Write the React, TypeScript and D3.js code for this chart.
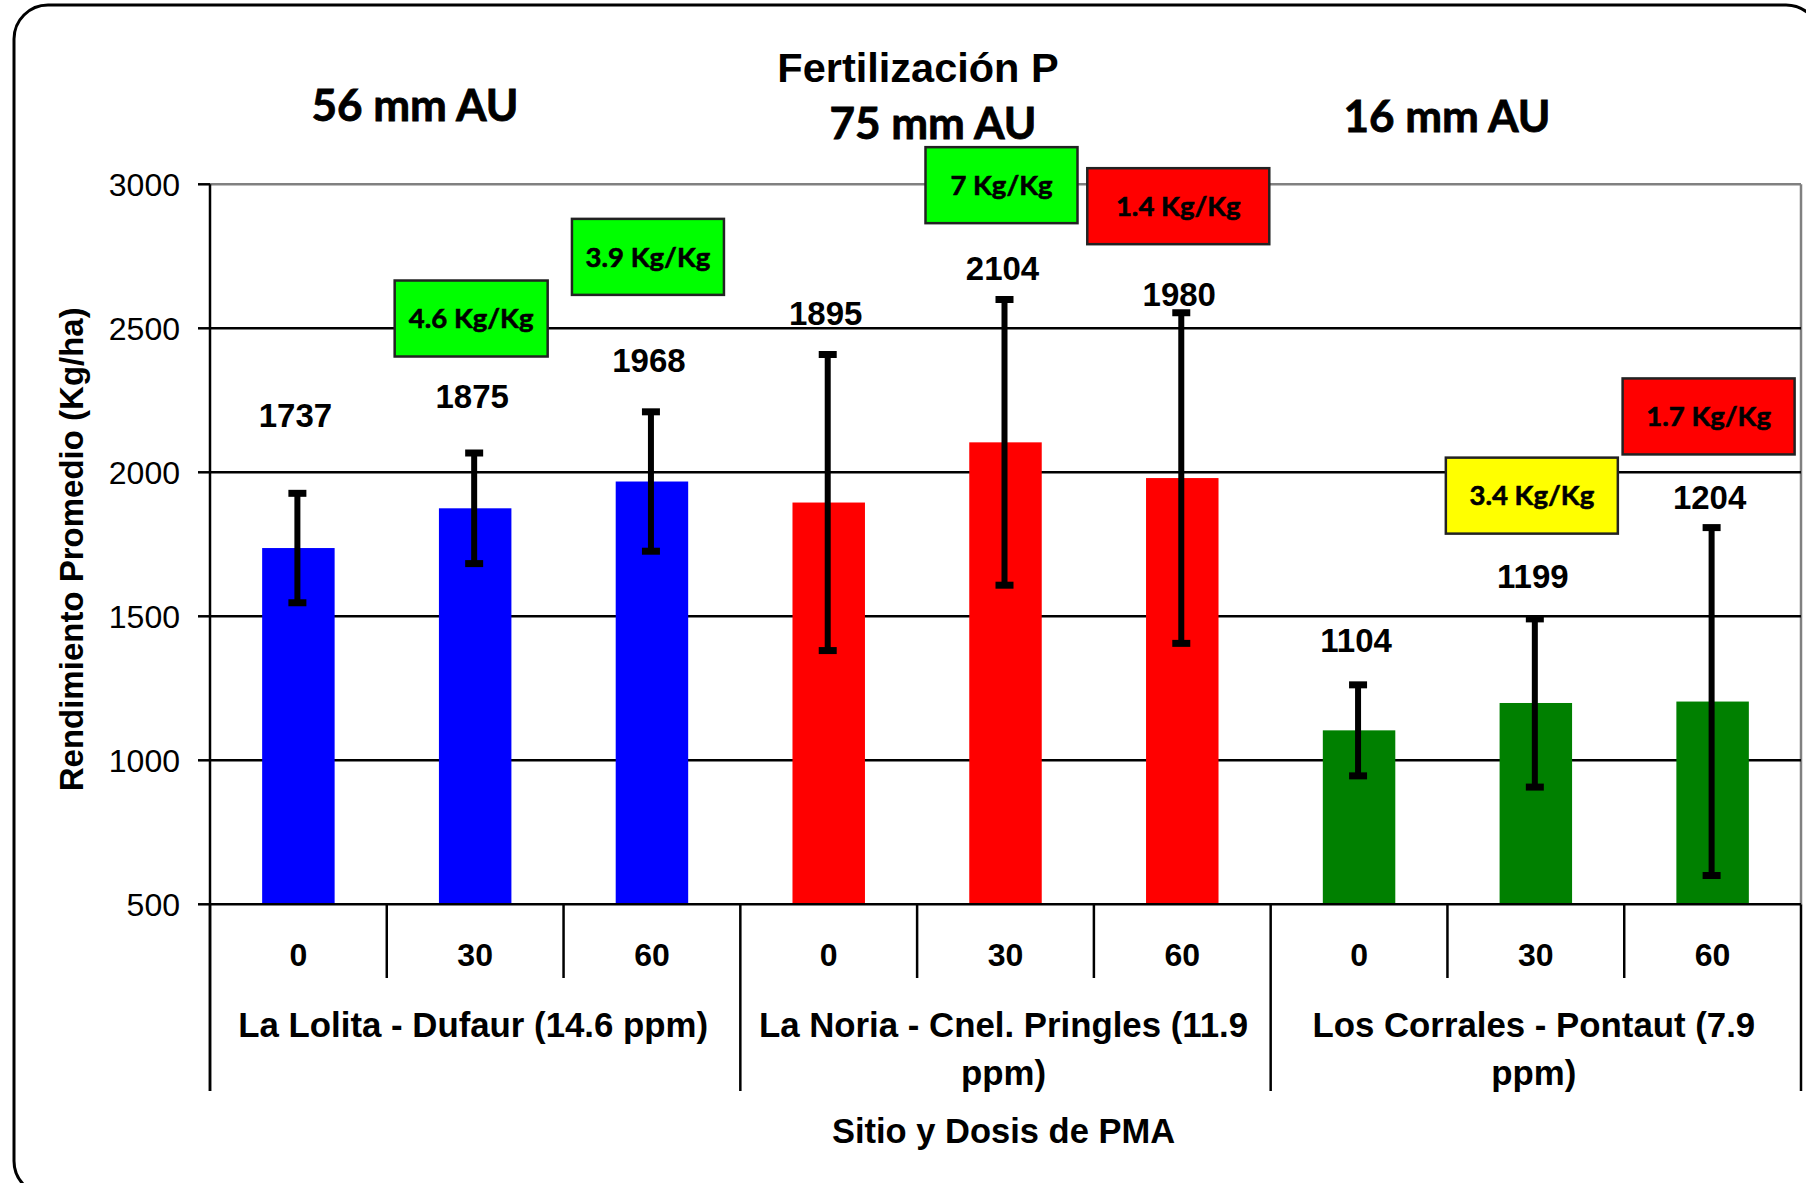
import React from "react";
import * as d3 from "d3";

const sites = [
  ["La Lolita - Dufaur (14.6 ppm)"],
  ["La Noria - Cnel. Pringles (11.9", "ppm)"],
  ["Los Corrales - Pontaut (7.9", "ppm)"],
];
const doses = ["0", "30", "60"];
const values = [1737, 1875, 1968, 1895, 2104, 1980, 1104, 1199, 1204];
const errors = [190, 192, 242, 514, 496, 574, 158, 292, 604];
const barColors = ["#0000FF", "#0000FF", "#0000FF", "#FF0000", "#FF0000", "#FF0000", "#008000", "#008000", "#008000"];
const labelY = [2199, 2262, 2388, 2552, 2708, 2618, 1416, 1640, 1912];
const yTicks = [500, 1000, 1500, 2000, 2500, 3000];

const annoText = ["4.6 Kg/Kg", "3.9 Kg/Kg", "7 Kg/Kg", "1.4 Kg/Kg", "3.4 Kg/Kg", "1.7 Kg/Kg"];
const annoCat = [1, 2, 4, 5, 7, 8];
const annoY = [2534, 2748, 2997, 2924, 1919, 2194];
const annoFill = ["#00FF00", "#00FF00", "#00FF00", "#FF0000", "#FFFF00", "#FF0000"];
const annoW = [153, 152, 152, 182, 172, 172];

const rainLabels = ["56 mm AU", "75 mm AU", "16 mm AU"];

export default function App() {
  const W = 1806, H = 1183;
  const left = 210, right = 1801, top = 184.3, bottom = 904.3;
  const x = d3.scaleBand<number>().domain(d3.range(values.length)).range([left, right]).padding(0);
  const y = d3.scaleLinear().domain([500, 3000]).range([bottom, top]);
  const bw = x.bandwidth() * 0.41;
  const cx = (i: number) => (x(i) as number) + x.bandwidth() / 2;
  const arial = "'Liberation Sans', Arial, sans-serif";
  const calibri = "Lato, 'Open Sans', sans-serif";
  const groupW = x.bandwidth() * 3;

  return (
    <svg width={W} height={H} style={{ position: "absolute", left: 0, top: 0, background: "#fff" }}>
      <rect x={0} y={0} width={W} height={H} fill="#fff" />
      <rect x={14} y={5} width={1806} height={1190} rx={34} ry={34} fill="none" stroke="#000" strokeWidth={3} />

      {/* plot border top/right */}
      <line x1={left} x2={right} y1={top} y2={top} stroke="#808080" strokeWidth={2.5} />
      <line x1={right} x2={right} y1={top} y2={bottom} stroke="#808080" strokeWidth={2.5} />

      {/* gridlines */}
      {yTicks.filter(t => t > 500 && t < 3000).map(t => (
        <line key={t} x1={left} x2={right} y1={y(t)} y2={y(t)} stroke="#000" strokeWidth={2.5} />
      ))}

      {/* bars */}
      {values.map((v, i) => (
        <rect key={i} x={cx(i) - bw / 2} y={y(v)} width={bw} height={bottom - y(v)} fill={barColors[i]} />
      ))}

      {/* error bars */}
      {values.map((v, i) => (
        <g key={i} stroke="#000">
          <line x1={cx(i) - 1} x2={cx(i) - 1} y1={y(v + errors[i])} y2={y(v - errors[i])} strokeWidth={6} />
          <line x1={cx(i) - 10} x2={cx(i) + 8} y1={y(v + errors[i])} y2={y(v + errors[i])} strokeWidth={7} />
          <line x1={cx(i) - 10} x2={cx(i) + 8} y1={y(v - errors[i])} y2={y(v - errors[i])} strokeWidth={7} />
        </g>
      ))}

      {/* y axis */}
      <line x1={left} x2={left} y1={top} y2={1091} stroke="#000" strokeWidth={2.5} />
      {yTicks.map(t => (
        <g key={t}>
          <line x1={left - 12} x2={left} y1={y(t)} y2={y(t)} stroke="#000" strokeWidth={2.5} />
          <text x={180} y={y(t)} dy="0.35em" textAnchor="end" fontFamily={arial} fontSize={32} fill="#000">{t}</text>
        </g>
      ))}

      {/* x axis */}
      <line x1={left} x2={right} y1={bottom} y2={bottom} stroke="#000" strokeWidth={2.5} />
      {d3.range(values.length + 1).map(i => {
        const xx = left + i * x.bandwidth();
        const long = i % 3 === 0;
        return <line key={i} x1={xx} x2={xx} y1={bottom} y2={long ? 1091 : 978} stroke="#000" strokeWidth={2.5} />;
      })}
      {values.map((_, i) => (
        <text key={i} x={cx(i)} y={955} dy="0.35em" textAnchor="middle" fontFamily={arial} fontWeight="bold" fontSize={32}>{doses[i % 3]}</text>
      ))}
      {sites.map((lines, g) => (
        <text key={g} textAnchor="middle" fontFamily={arial} fontWeight="bold" fontSize={34.8}>
          {lines.map((l, k) => (
            <tspan key={k} x={left + g * groupW + groupW / 2 - 2} y={1025 + k * 48} dy="0.35em">{l}</tspan>
          ))}
        </text>
      ))}
      <text x={(left + right) / 2 - 2} y={1131} dy="0.35em" textAnchor="middle" fontFamily={arial} fontWeight="bold" fontSize={34.5}>Sitio y Dosis de PMA</text>
      <text transform={`translate(71,${(top + bottom) / 2 + 5}) rotate(-90)`} dy="0.35em" textAnchor="middle" fontFamily={arial} fontWeight="bold" fontSize={33}>Rendimiento Promedio (Kg/ha)</text>

      {/* value labels */}
      {values.map((v, i) => (
        <text key={i} x={cx(i) - 3} y={y(labelY[i])} dy="0.35em" textAnchor="middle" fontFamily={arial} fontWeight="bold" fontSize={33}>{v}</text>
      ))}

      {/* annotation boxes */}
      {annoText.map((t, k) => {
        const acx = cx(annoCat[k]) - 4;
        const acy = y(annoY[k]);
        return (
          <g key={k}>
            <rect x={acx - annoW[k] / 2} y={acy - 38} width={annoW[k]} height={76} fill={annoFill[k]} stroke="#222" strokeWidth={2.5} />
            <text x={acx} y={acy} dy="0.35em" textAnchor="middle" fontFamily={calibri} fontWeight="bold" fontSize={27.5} stroke="#000" strokeWidth={0.6}>{t}</text>
          </g>
        );
      })}

      {/* titles */}
      <text x={918} y={67} dy="0.35em" textAnchor="middle" fontFamily={arial} fontWeight="bold" fontSize={41.5}>Fertilización P</text>
      <text x={415} y={106} dy="0.35em" textAnchor="middle" fontFamily={calibri} fontWeight="bold" fontSize={44} stroke="#000" strokeWidth={0.8}>{rainLabels[0]}</text>
      <text x={933} y={124} dy="0.35em" textAnchor="middle" fontFamily={calibri} fontWeight="bold" fontSize={44} stroke="#000" strokeWidth={0.8}>{rainLabels[1]}</text>
      <text x={1447} y={117} dy="0.35em" textAnchor="middle" fontFamily={calibri} fontWeight="bold" fontSize={44} stroke="#000" strokeWidth={0.8}>{rainLabels[2]}</text>
    </svg>
  );
}
